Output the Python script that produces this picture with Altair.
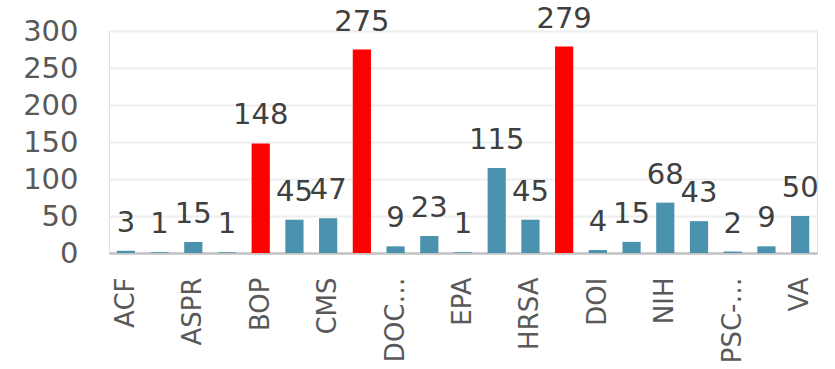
import altair as alt
import pandas as pd

agencies = ["ACF", "AHRQ", "ASPR", "ATF", "BOP", "CDC", "CMS", "DHS", "DOC-NOAA", "DOD",
            "EPA", "FDA", "HRSA", "ICE", "DOI", "NASA", "NIH", "OPM", "PSC-FOH", "USDA", "VA"]
counts = [3, 1, 15, 1, 148, 45, 47, 275, 9, 23, 1, 115, 45, 279, 4, 15, 68, 43, 2, 9, 50]
highlighted = ["BOP", "DHS", "ICE"]
shown_labels = agencies[::2]
y_ticks = [0, 50, 100, 150, 200, 250, 300]

df = pd.DataFrame({"agency": agencies, "count": counts})
df["hl"] = df["agency"].isin(highlighted)

FONT = "DejaVu Sans"

base = alt.Chart(df).encode(
    x=alt.X("agency:N", sort=agencies,
            scale=alt.Scale(paddingInner=0.46, paddingOuter=0.23),
            axis=alt.Axis(title=None, values=shown_labels, labelAngle=-90,
                          labelAlign="right", labelBaseline="middle",
                          labelFont=FONT, labelFontSize=26, labelColor="#595959",
                          labelPadding=24, labelLimit=86, ticks=False,
                          domainColor="#c3c3c3", domainWidth=2.5, grid=False)),
    y=alt.Y("count:Q", scale=alt.Scale(domain=[0, 300], nice=False),
            axis=alt.Axis(title=None, values=y_ticks, labelFont=FONT, labelFontSize=29,
                          labelColor="#595959", labelPadding=31, ticks=False, domain=False,
                          gridColor="#eeeeee", gridWidth=2)),
)

bars = base.mark_bar().encode(
    color=alt.condition("datum.hl", alt.value("#ff0000"), alt.value("#4a92ad"))
)

labels = base.mark_text(baseline="alphabetic", dy=-19, font=FONT, fontSize=29,
                        color="#404040").encode(text="count:Q")

chart = (bars + labels).properties(
    width=708, height=222,
    autosize=alt.AutoSizeParams(type="none"),
    padding={"left": 109, "top": 31, "right": 18, "bottom": 116},
).configure_view(stroke=None).configure(background="white")

chart.save("out.html", embed_options={"renderer": "svg", "actions": False})
